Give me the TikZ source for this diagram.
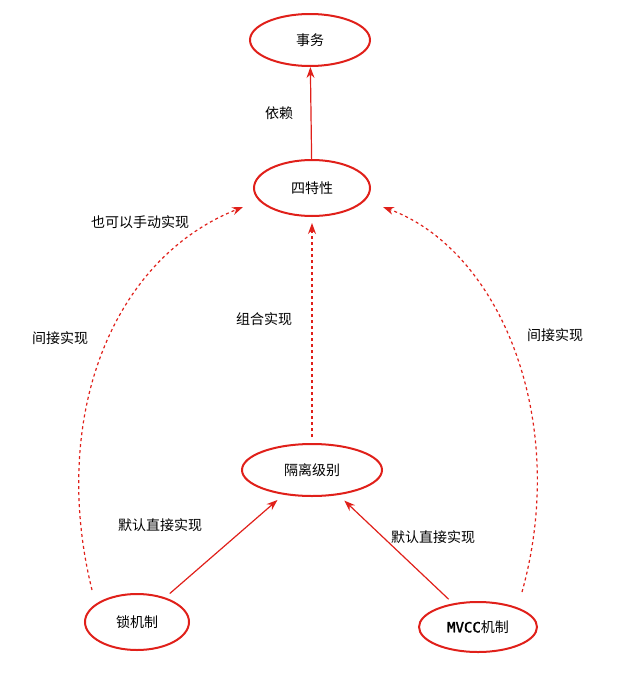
\documentclass[tikz,border=0pt]{standalone}
\usepackage{fontspec}
\setmainfont{Noto Sans CJK SC}
\newfontfamily\monofont{DejaVu Sans Mono}[FakeBold=2]
\usetikzlibrary{shapes.geometric,arrows.meta}
\definecolor{rd}{HTML}{E0201A}
\begin{document}
\begin{tikzpicture}[x=1pt,y=-1pt,
  ell/.style={ellipse,draw=rd,line width=2pt,minimum width=#1,minimum height=52pt,font=\fontsize{14}{16}\selectfont},
  arr/.style={draw=rd,line width=1.2pt,-{Stealth[length=11pt,width=8pt]}},
  dsh/.style={arr,dashed},
  lab/.style={font=\fontsize{14}{16}\selectfont}]
\useasboundingbox (0,0) rectangle (618,680);
\node[ell=120pt] (sw) at (310,40) {事务};
\node[ell=116pt,minimum height=56pt] (tx) at (312,188) {四特性};
\node[ell=140pt] (gl) at (312,470) {隔离级别};
\node[ell=104pt,minimum height=56pt] (lk) at (137,622) {锁机制};
\node[ell=118pt,minimum height=50pt] (mv) at (478,627) {{\monofont MVCC}机制};
\draw[arr] (tx) -- (sw) node[lab,midway,left=14pt] {依赖};
\draw[dsh,shorten <=6pt,shorten >=6pt] (gl) -- (tx) node[lab,pos=0.55,left=16pt] {组合实现};
\coordinate (a1) at (92,590); \coordinate (a2) at (243,207);
\coordinate (b1) at (522,592); \coordinate (b2) at (383,207);
\draw[dsh] (a1) .. controls (50,420) and (110,260) .. (a2);
\draw[dsh] (b1) .. controls (570,420) and (500,250) .. (b2);
\node[lab] (l1) at (140,222) {也可以手动实现};
\node[lab] (l2) at (60,338) {间接实现};
\node[lab] (l3) at (555,335) {间接实现};
\draw[arr,shorten <=6pt,shorten >=8pt] (lk) -- (gl);
\draw[arr,shorten <=6pt,shorten >=8pt] (mv) -- (gl);
\node[lab] (l4) at (160,525) {默认直接实现};
\node[lab] (l5) at (433,537) {默认直接实现};
\end{tikzpicture}
\end{document}
